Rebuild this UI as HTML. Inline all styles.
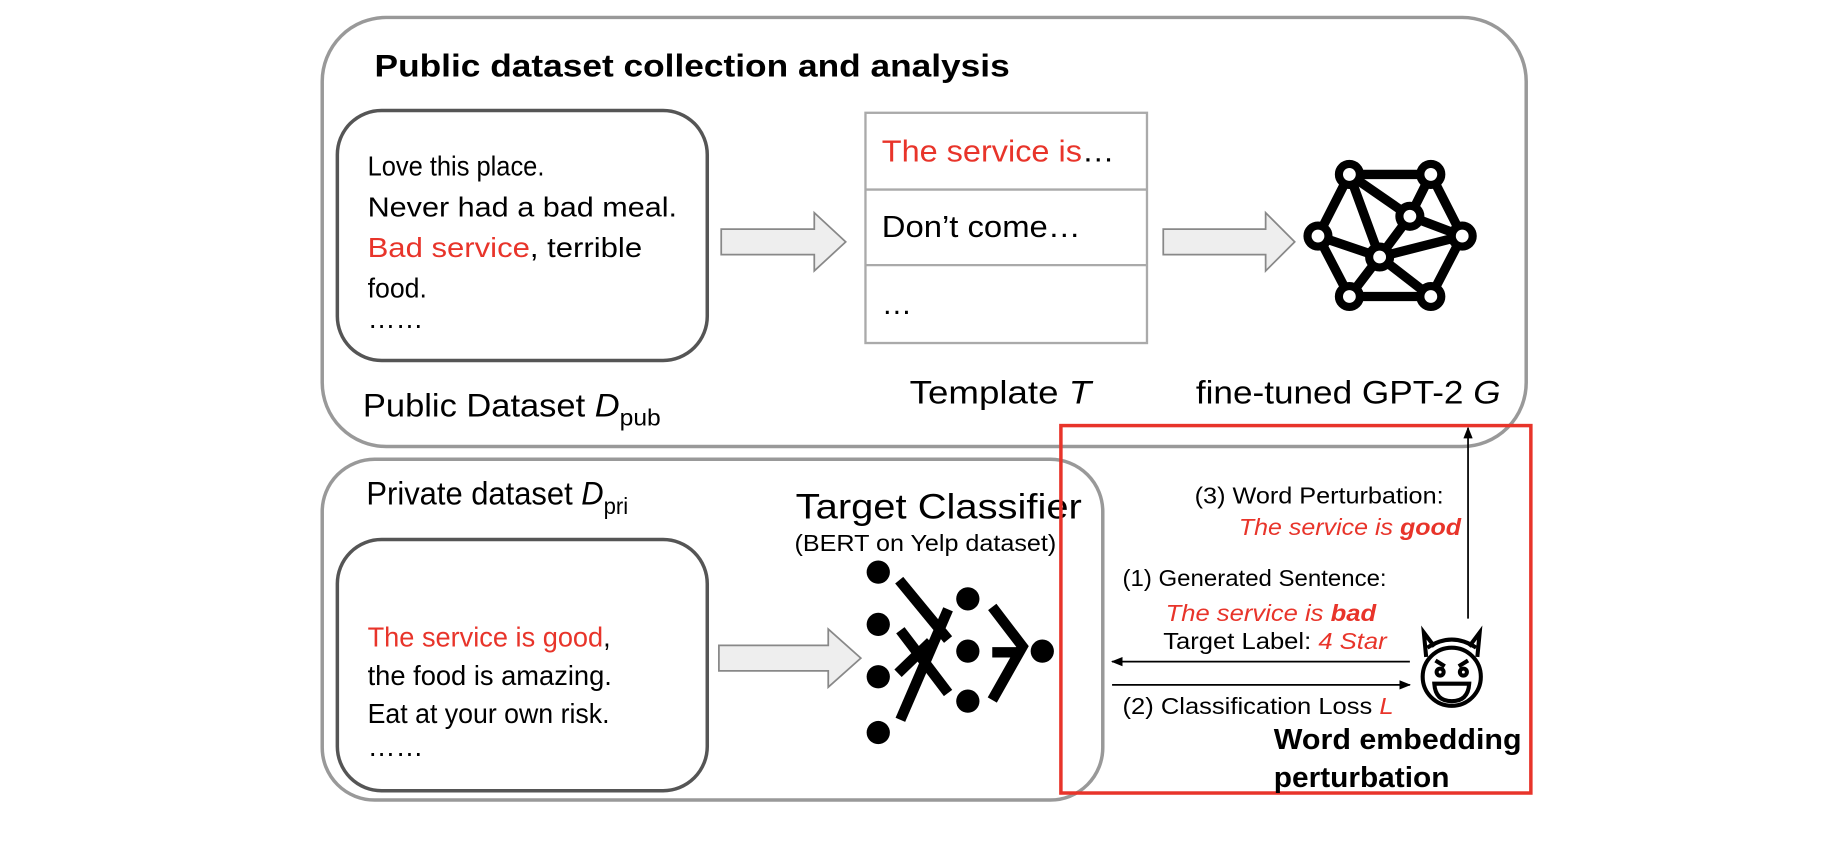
<!DOCTYPE html>
<html><head><meta charset="utf-8"><style>
html,body{margin:0;padding:0;background:#fff;}
svg{display:block;}
text{font-family:"Liberation Sans",sans-serif;}
</style></head><body>
<svg width="1824" height="850" viewBox="0 0 1568 731" preserveAspectRatio="none" xmlns="http://www.w3.org/2000/svg">
<defs>
<marker id="ah" markerWidth="10" markerHeight="8" refX="9" refY="4" orient="auto" markerUnits="userSpaceOnUse"><path d="M0,0 L10,4 L0,8 z" fill="#000"/></marker>
</defs>
<!-- top group -->
<rect x="277" y="15" width="1035" height="369" rx="55" fill="none" stroke="#999" stroke-width="3"/>
<text x="322" y="66" font-size="27" font-weight="bold" textLength="546" lengthAdjust="spacingAndGlyphs">Public dataset collection and analysis</text>
<rect x="290" y="95" width="318" height="215" rx="38" fill="none" stroke="#555" stroke-width="3"/>
<g font-size="24">
<text x="316" y="151" textLength="152" lengthAdjust="spacingAndGlyphs">Love this place.</text>
<text x="316" y="186" textLength="266" lengthAdjust="spacingAndGlyphs">Never had a bad meal.</text>
<text x="316" y="221" textLength="236" lengthAdjust="spacingAndGlyphs"><tspan fill="#e8342a">Bad service</tspan>, terrible</text>
<text x="316" y="256" textLength="51" lengthAdjust="spacingAndGlyphs">food.</text>
<text x="316" y="282">……</text>
</g>
<path d="M620,197 L700,197 L700,183 L727,208 L700,233 L700,219 L620,219 Z" fill="#eee" stroke="#888" stroke-width="1.5"/>
<rect x="744" y="97" width="242" height="198" fill="none" stroke="#aaa" stroke-width="2"/>
<line x1="744" y1="163" x2="986" y2="163" stroke="#aaa" stroke-width="2"/>
<line x1="744" y1="228" x2="986" y2="228" stroke="#aaa" stroke-width="2"/>
<g font-size="26">
<text x="758" y="139" textLength="200" lengthAdjust="spacingAndGlyphs"><tspan fill="#e8342a">The service is</tspan>…</text>
<text x="758" y="204" textLength="171" lengthAdjust="spacingAndGlyphs">Don’t come…</text>
<text x="758" y="270">…</text>
</g>
<path d="M1000,197 L1088,197 L1088,183 L1113,208 L1088,233 L1088,219 L1000,219 Z" fill="#eee" stroke="#888" stroke-width="1.5"/>
<g stroke="#000" stroke-width="8" fill="none" stroke-linecap="round">
<path d="M1160,150 L1230,150 L1257,203 L1230,255 L1160,255 L1133,203 Z"/>
<path d="M1160,150 L1212,186 L1230,150 M1212,186 L1257,203 M1212,186 L1186,221 M1160,150 L1186,221 M1133,203 L1186,221 L1257,203 M1186,221 L1160,255 M1186,221 L1230,255"/>
</g>
<g fill="#fff" stroke="#000" stroke-width="7">
<circle cx="1160" cy="150" r="9"/><circle cx="1230" cy="150" r="9"/><circle cx="1133" cy="203" r="9"/><circle cx="1257" cy="203" r="9"/>
<circle cx="1160" cy="255" r="9"/><circle cx="1230" cy="255" r="9"/><circle cx="1212" cy="186" r="9"/><circle cx="1186" cy="221" r="9"/>
</g>
<text x="312" y="358" font-size="28" textLength="256" lengthAdjust="spacingAndGlyphs">Public Dataset <tspan font-style="italic">D</tspan><tspan font-size="20" dy="8">pub</tspan></text>
<text x="782" y="347" font-size="28" textLength="156" lengthAdjust="spacingAndGlyphs">Template <tspan font-style="italic">T</tspan></text>
<text x="1028" y="347" font-size="28" textLength="262" lengthAdjust="spacingAndGlyphs">fine-tuned GPT-2 <tspan font-style="italic">G</tspan></text>
<!-- bottom group -->
<rect x="277" y="395" width="671" height="293" rx="45" fill="none" stroke="#999" stroke-width="3"/>
<text x="315" y="434" font-size="28" textLength="225" lengthAdjust="spacingAndGlyphs">Private dataset <tspan font-style="italic">D</tspan><tspan font-size="20" dy="8">pri</tspan></text>
<rect x="290" y="464" width="318" height="216" rx="38" fill="none" stroke="#555" stroke-width="3"/>
<g font-size="24">
<text x="316" y="556" textLength="209" lengthAdjust="spacingAndGlyphs"><tspan fill="#e8342a">The service is good</tspan>,</text>
<text x="316" y="589" textLength="210" lengthAdjust="spacingAndGlyphs">the food is amazing.</text>
<text x="316" y="622" textLength="208" lengthAdjust="spacingAndGlyphs">Eat at your own risk.</text>
<text x="316" y="650">……</text>
</g>
<path d="M618,555 L712,555 L712,541 L740,566 L712,591 L712,577 L618,577 Z" fill="#eee" stroke="#888" stroke-width="1.5"/>
<text x="684" y="446" font-size="30" textLength="246" lengthAdjust="spacingAndGlyphs">Target Classifier</text>
<text x="683" y="474" font-size="20" textLength="225" lengthAdjust="spacingAndGlyphs">(BERT on Yelp dataset)</text>
<g fill="#000">
<circle cx="755" cy="492" r="10"/><circle cx="755" cy="537" r="10"/><circle cx="755" cy="582" r="10"/><circle cx="755" cy="630" r="10"/>
<circle cx="832" cy="515" r="10"/><circle cx="832" cy="560" r="10"/><circle cx="832" cy="603" r="10"/><circle cx="896" cy="560" r="10"/>
</g>
<g stroke="#000" stroke-width="9" fill="none">
<path d="M773,499 L815,550"/><path d="M774,542 L815,596"/><path d="M774,619 L815,524"/><path d="M772,579 L800,552"/>
<path d="M853,522 L879,556 L853,602"/><path d="M853,561 L877,561"/>
</g>
<!-- red box -->
<rect x="912" y="366" width="404" height="316" fill="none" stroke="#e8342a" stroke-width="3"/>
<line x1="1262" y1="532" x2="1262" y2="368" stroke="#000" stroke-width="1.5" marker-end="url(#ah)"/>
<g font-size="20">
<text x="1027" y="433" textLength="214" lengthAdjust="spacingAndGlyphs">(3) Word Perturbation:</text>
<text x="1065" y="460" fill="#e8342a" font-style="italic" textLength="191" lengthAdjust="spacingAndGlyphs">The service is <tspan font-weight="bold">good</tspan></text>
<text x="965" y="504" textLength="227" lengthAdjust="spacingAndGlyphs">(1) Generated Sentence:</text>
<text x="1002" y="534" fill="#e8342a" font-style="italic" textLength="181" lengthAdjust="spacingAndGlyphs">The service is <tspan font-weight="bold">bad</tspan></text>
<text x="1000" y="558" textLength="192" lengthAdjust="spacingAndGlyphs">Target Label: <tspan fill="#e8342a" font-style="italic">4 Star</tspan></text>
<text x="965" y="614" textLength="233" lengthAdjust="spacingAndGlyphs">(2) Classification Loss <tspan fill="#e8342a" font-style="italic">L</tspan></text>
</g>
<line x1="1212" y1="569" x2="956" y2="569" stroke="#000" stroke-width="1.5" marker-end="url(#ah)"/>
<line x1="956" y1="589" x2="1212" y2="589" stroke="#000" stroke-width="1.5" marker-end="url(#ah)"/>
<g stroke="#000" stroke-width="3.5" fill="none">
<path d="M1227,557 Q1248,543 1269,557"/>
<circle cx="1248" cy="582" r="25"/>
<path d="M1226,565 L1224,544 L1233,556 M1270,565 L1272,544 L1263,556"/>
<path d="M1234,568 L1242,573 M1262,568 L1254,573"/>
<circle cx="1238" cy="578" r="3"/><circle cx="1258" cy="578" r="3"/>
<path d="M1233,588 L1263,588 Q1262,603 1248,603 Q1234,603 1233,588 Z"/>
</g>
<text x="1095" y="644" font-size="25" font-weight="bold" textLength="213" lengthAdjust="spacingAndGlyphs">Word embedding</text>
<text x="1095" y="677" font-size="25" font-weight="bold" textLength="151" lengthAdjust="spacingAndGlyphs">perturbation</text>
</svg>
</body></html>
